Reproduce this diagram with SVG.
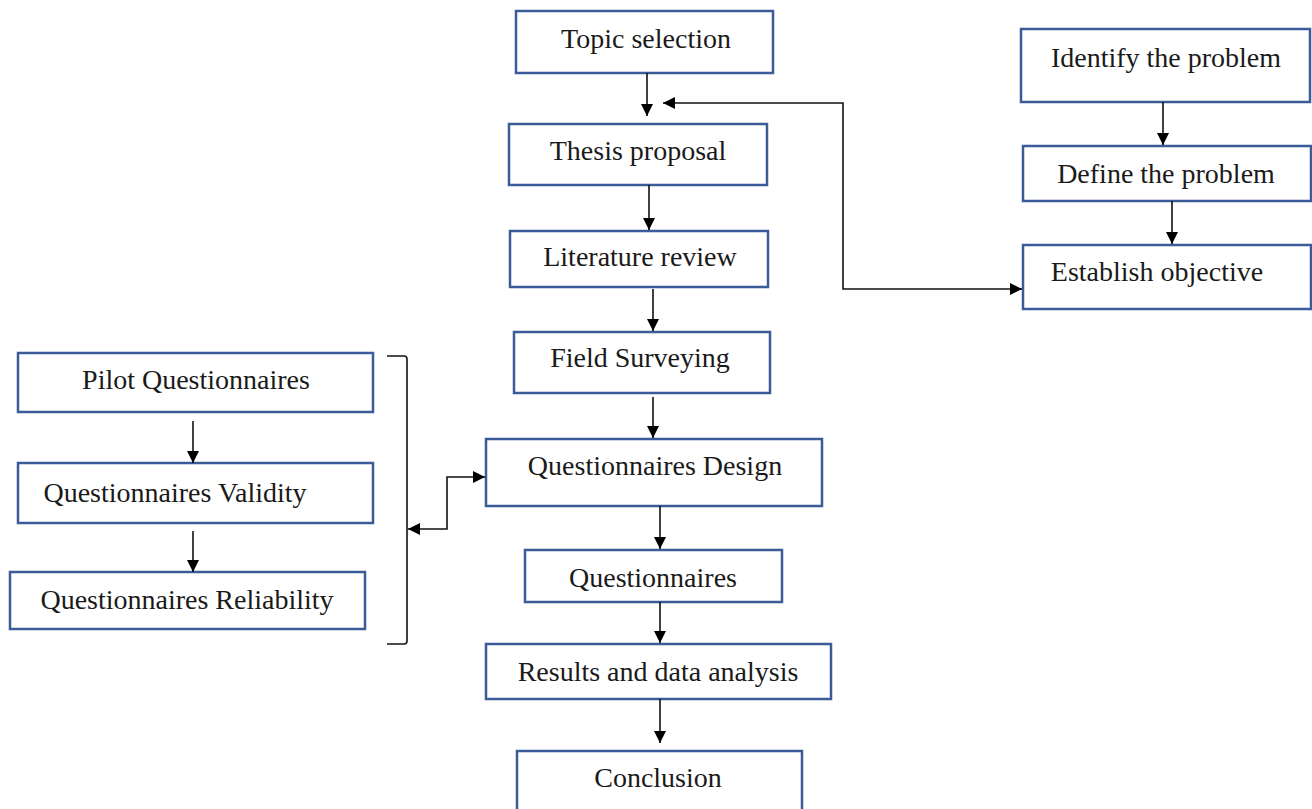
<svg xmlns="http://www.w3.org/2000/svg" width="1312" height="809" viewBox="0 0 1312 809">
  <style>
    .box { fill: #ffffff; stroke: #3b5b99; stroke-width: 2.5; }
    .lbl { font-family: "Liberation Serif", "Times New Roman", serif; font-size: 28px; fill: #1a1a1a; text-anchor: middle; }
    .wire { fill: none; stroke: #111111; stroke-width: 1.6; }
  </style>
  <defs>
    <marker id="tip" viewBox="0 0 10 10" refX="10" refY="5" markerWidth="13" markerHeight="12" markerUnits="userSpaceOnUse" orient="auto-start-reverse">
      <path d="M0,0 L10,5 L0,10 Z" fill="#000000"/>
    </marker>
  </defs>
  <rect width="1312" height="809" fill="#ffffff"/>

  <!-- main column -->
  <g id="topic-selection">
    <rect class="box" x="516" y="11" width="257" height="62"/>
    <text class="lbl" x="646" y="48">Topic selection</text>
  </g>
  <g id="thesis-proposal">
    <rect class="box" x="509" y="124" width="258" height="61"/>
    <text class="lbl" x="638" y="160">Thesis proposal</text>
  </g>
  <g id="literature-review">
    <rect class="box" x="510" y="231" width="258" height="56"/>
    <text class="lbl" x="640" y="266">Literature review</text>
  </g>
  <g id="field-surveying">
    <rect class="box" x="514" y="332" width="256" height="61"/>
    <text class="lbl" x="640" y="367">Field Surveying</text>
  </g>
  <g id="questionnaires-design">
    <rect class="box" x="486" y="439" width="336" height="67"/>
    <text class="lbl" x="655" y="475">Questionnaires Design</text>
  </g>
  <g id="questionnaires">
    <rect class="box" x="525" y="550" width="257" height="52"/>
    <text class="lbl" x="653" y="587">Questionnaires</text>
  </g>
  <g id="results-analysis">
    <rect class="box" x="486" y="644" width="345" height="55"/>
    <text class="lbl" x="658" y="681">Results and data analysis</text>
  </g>
  <g id="conclusion">
    <rect class="box" x="517" y="751" width="285" height="70"/>
    <text class="lbl" x="658" y="787">Conclusion</text>
  </g>

  <!-- problem column -->
  <g id="identify-problem">
    <rect class="box" x="1021" y="29" width="289" height="73"/>
    <text class="lbl" x="1166" y="67">Identify the problem</text>
  </g>
  <g id="define-problem">
    <rect class="box" x="1023" y="146" width="288" height="55"/>
    <text class="lbl" x="1166" y="183">Define the problem</text>
  </g>
  <g id="establish-objective">
    <rect class="box" x="1023" y="245" width="288" height="64"/>
    <text class="lbl" x="1157" y="281">Establish objective</text>
  </g>

  <!-- questionnaire checks column -->
  <g id="pilot-questionnaires">
    <rect class="box" x="18" y="353" width="355" height="59"/>
    <text class="lbl" x="196" y="389">Pilot Questionnaires</text>
  </g>
  <g id="questionnaires-validity">
    <rect class="box" x="18" y="463" width="355" height="60"/>
    <text class="lbl" x="175" y="502">Questionnaires Validity</text>
  </g>
  <g id="questionnaires-reliability">
    <rect class="box" x="10" y="572" width="355" height="57"/>
    <text class="lbl" x="187" y="609">Questionnaires Reliability</text>
  </g>

  <g id="connectors">
    <!-- bracket grouping the three checks -->
    <path class="wire" d="M387,356 L404,356 Q407,356 407,359 L407,641 Q407,644 404,644 L387,644"/>
    <!-- main flow -->
    <line class="wire" x1="647" y1="73" x2="647" y2="116" marker-end="url(#tip)"/>
    <line class="wire" x1="649" y1="185" x2="649" y2="230" marker-end="url(#tip)"/>
    <line class="wire" x1="653" y1="289" x2="653" y2="331" marker-end="url(#tip)"/>
    <line class="wire" x1="653" y1="397" x2="653" y2="438" marker-end="url(#tip)"/>
    <line class="wire" x1="660" y1="506" x2="660" y2="549" marker-end="url(#tip)"/>
    <line class="wire" x1="660" y1="602" x2="660" y2="643" marker-end="url(#tip)"/>
    <line class="wire" x1="660" y1="699" x2="660" y2="743" marker-end="url(#tip)"/>
    <!-- problem column flow -->
    <line class="wire" x1="1163" y1="102" x2="1163" y2="145" marker-end="url(#tip)"/>
    <line class="wire" x1="1172" y1="201" x2="1172" y2="244" marker-end="url(#tip)"/>
    <!-- link between thesis stage and objective -->
    <path class="wire" d="M663,103 L843,103 L843,289 L1022,289" marker-start="url(#tip)" marker-end="url(#tip)"/>
    <!-- link between bracket and questionnaire design -->
    <path class="wire" d="M408,529 L447,529 L447,477 L485,477" marker-start="url(#tip)" marker-end="url(#tip)"/>
    <!-- checks column flow -->
    <line class="wire" x1="193" y1="421" x2="193" y2="463" marker-end="url(#tip)"/>
    <line class="wire" x1="193" y1="531" x2="193" y2="572" marker-end="url(#tip)"/>
  </g>
</svg>
